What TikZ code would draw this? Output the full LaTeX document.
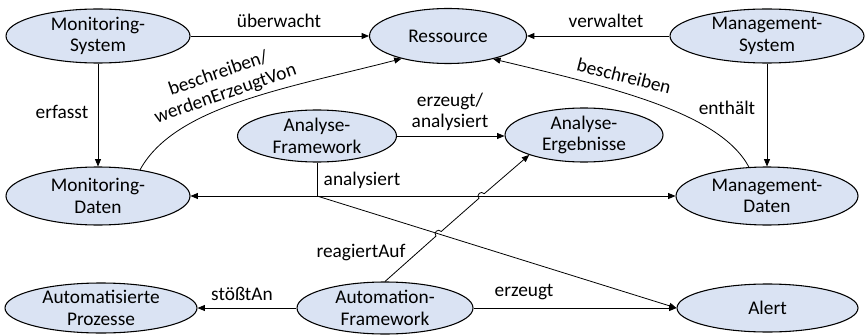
\documentclass[tikz,border=0pt]{standalone}
\usepackage{fontspec}
\setmainfont{Carlito}
\usetikzlibrary{shapes.geometric,arrows.meta}
\definecolor{entityfill}{HTML}{DAE3F3}
\tikzset{
  entity/.style={ellipse, draw=black, line width=0.8pt, fill=entityfill,
    inner sep=0pt, align=center, font=\fontsize{14.5}{16}\selectfont},
  lbl/.style={inner sep=0pt, align=center, font=\fontsize{14.5}{16}\selectfont},
  rel/.style={line width=0.6pt, -{Triangle[length=5.5pt,width=4.5pt]}},
  plain/.style={line width=0.6pt},
}
\begin{document}
\begin{tikzpicture}[x=0.75pt,y=-0.75pt]
\useasboundingbox (0,0) rectangle (867,335);

% entities
\node[entity, minimum width=138pt,   minimum height=40.5pt]  (mons)  at (98,36)    {Monitoring-\\System};
\node[entity, minimum width=117.75pt,minimum height=41.25pt] (res)   at (448,36)   {Ressource};
\node[entity, minimum width=145.5pt, minimum height=40.5pt]  (mans)  at (767,36)   {Management-\\System};
\node[entity, minimum width=138pt,   minimum height=43.5pt]  (mond)  at (98,196)   {Monitoring-\\Daten};
\node[entity, minimum width=136.5pt, minimum height=43.5pt]  (mand)  at (767,196)  {Management-\\Daten};
\node[entity, minimum width=119.25pt,minimum height=39pt]    (af)    at (317,136)  {Analyse-\\Framework};
\node[entity, minimum width=118.5pt, minimum height=40.5pt]  (ae)    at (584,135)  {Analyse-\\Ergebnisse};
\node[entity, minimum width=144pt,   minimum height=37.5pt]  (ap)    at (101,308)  {Automatisierte\\Prozesse};
\node[entity, minimum width=132pt,   minimum height=39pt]    (auf)   at (385,308)  {Automation-\\Framework};
\node[entity, minimum width=135.75pt,minimum height=36pt]    (alert) at (767.5,308){Alert};

% relations
\draw[rel] (mons.east) -- (res.west);
\draw[rel] (mans.west) -- (res.east);
\draw[rel] (mons.south) -- (mond.north);
\draw[rel] (mans.south) -- (mand.north);
\draw[rel] (mond.32) .. controls (175,106) and (288,88) .. (res.206);
\draw[rel] (mand.122) .. controls (720,113) and (615,88) .. (res.333);
\draw[rel] (af.east) -- (af.east -| ae.west);

% analysiert: one branch splitting to three targets
\coordinate (j) at (af.south |- mond.east);
\draw[plain] (af.south) -- (j);
\draw[rel] (j) -- (mond.east);
\draw[rel] (j) -- (mand.west);
\draw[rel] (j) -- (alert.west);

% reagiertAuf with line jumps over the crossed connectors
\coordinate (hopAa) at (435.97,236.11);
\coordinate (hopAb) at (441.23,231.49);
\coordinate (hopBa) at (478.97,198.31);
\coordinate (hopBb) at (484.23,193.69);
\draw[rel] (auf.north) -- (hopAa)
  .. controls (432.88,232.6) and (438.14,227.98) .. (hopAb) -- (hopBa)
  .. controls (475.88,194.8) and (481.14,190.18) .. (hopBb) -- (ae.200);

\draw[rel] (auf.west) -- (ap.east);
\draw[rel] (auf.east) -- (alert.west);

% relation labels
\node[lbl] (l1)  at (279,21)  {überwacht};
\node[lbl] (l2)  at (606,21)  {verwaltet};
\node[lbl] (l3)  at (62,112)  {erfasst};
\node[lbl] (l4)  at (727,108) {enthält};
\node[lbl, rotate=19]  (l5) at (222,84) {beschreiben/\\werdenErzeugtVon};
\node[lbl, rotate=-14] (l6) at (624,76) {beschreiben};
\node[lbl] (l7)  at (450,112) {erzeugt/\\analysiert};
\node[lbl] (l8)  at (362,180) {analysiert};
\node[lbl] (l9)  at (361,253) {reagiertAuf};
\node[lbl] (l10) at (242,294) {stößtAn};
\node[lbl] (l11) at (524,292) {erzeugt};
\end{tikzpicture}
\end{document}
